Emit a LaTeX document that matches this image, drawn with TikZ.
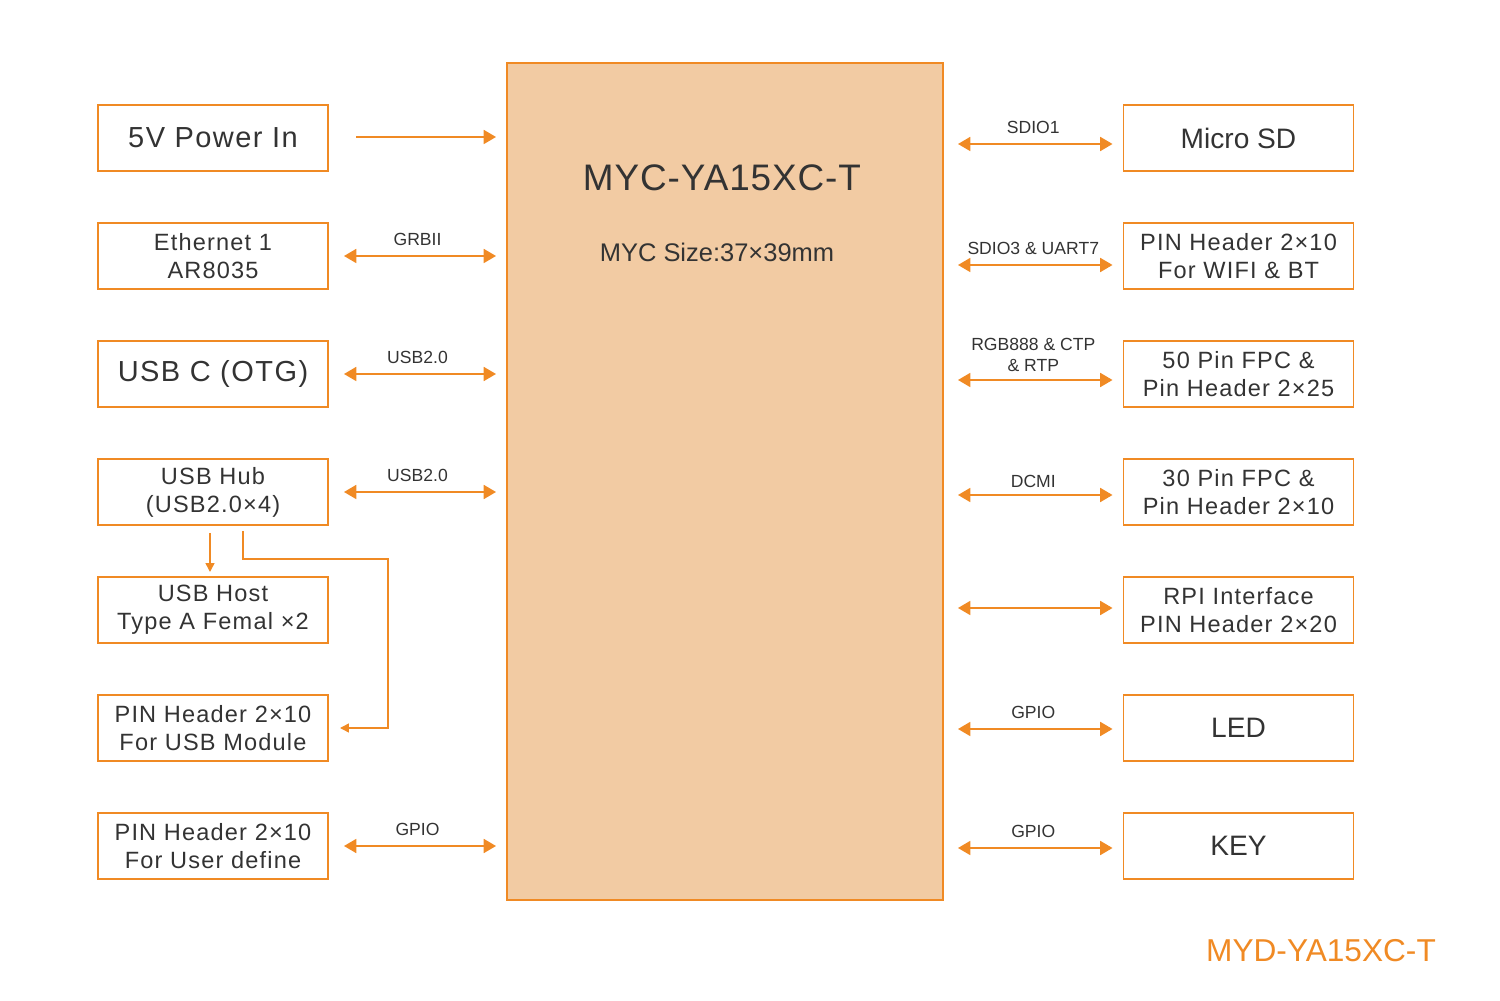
\documentclass[tikz,border=0pt]{standalone}
\usepackage{fontspec}
\setmainfont{Liberation Sans}
\newfontfamily\spacedfont[LetterSpace=5]{Liberation Sans}
\newfontfamily\titlefont[LetterSpace=2.5]{Liberation Sans}
\usepackage{tikz}
\usetikzlibrary{arrows.meta,positioning}
\definecolor{borde}{HTML}{F08A24}
\definecolor{relleno}{HTML}{F2CBA3}
\definecolor{texto}{HTML}{333333}
\tikzstyle{bloque}=[
	rectangle,
	draw=borde,
	line width=0.85pt,
	text=texto,
	inner sep=0pt,
	outer sep=0pt,
	minimum width=4.6cm,
	minimum height=1.32cm,
	align=center,
	font=\spacedfont\fontsize{13.4}{16}\selectfont]
\tikzstyle{grande}=[
	bloque,
	font=\spacedfont\fontsize{16.5}{19}\selectfont]
\tikzstyle{simple}=[
	bloque,
	font=\fontsize{16}{19}\selectfont]
\tikzstyle{modulo}=[
	rectangle,
	draw=borde,
	fill=relleno,
	line width=0.85pt,
	outer sep=0pt,
	minimum width=8.72cm,
	minimum height=16.74cm]
\tikzstyle{bus}=[
	draw=borde,
	line width=0.85pt]
\tikzstyle{etiq}=[
	text=texto,
	anchor=south,
	inner sep=0pt,
	yshift=0.2cm,
	align=center,
	font=\fontsize{10}{11.5}\selectfont]

\begin{document}
\begin{tikzpicture}[>={Triangle[length=7pt,width=8pt]}]
	\useasboundingbox (0,0) rectangle (30,20);
	\node[modulo] (mis) at (14.5,10.37) {};
	\node[text=texto,inner sep=0pt,font=\titlefont\fontsize{21}{24}\selectfont] (titulo) [below=2.02cm of mis.north,xshift=-0.06cm] {MYC-YA15XC-T};
	\node[text=texto,inner sep=0pt,font=\fontsize{14.5}{17}\selectfont] (tam) [below=1.04cm of titulo,xshift=-0.1cm] {MYC Size:37×39mm};
	% columna izquierda
	\node[grande] (pwr) at (4.26,17.24) {5V Power In};
	\node[bloque] (eth) [below=1.04cm of pwr] {Ethernet 1\\AR8035};
	\node[grande] (otg) [below=1.04cm of eth] {USB C (OTG)};
	\node[bloque] (hub) [below=1.04cm of otg] {USB Hub\\(USB2.0×4)};
	\node[bloque] (host) [below=1.04cm of hub] {USB Host\\Type A Femal ×2};
	\node[bloque] (pinusb) [below=1.04cm of host] {PIN Header 2×10\\For USB Module};
	\node[bloque] (pinusr) [below=1.04cm of pinusb] {PIN Header 2×10\\For User define};
	% columna derecha
	\node[simple] (sd) at (24.77,17.24) {Micro SD};
	\node[bloque] (wifi) [below=1.04cm of sd] {PIN Header 2×10\\For WIFI \& BT};
	\node[bloque] (fpc50) [below=1.04cm of wifi] {50 Pin FPC \&\\Pin Header 2×25};
	\node[bloque] (fpc30) [below=1.04cm of fpc50] {30 Pin FPC \&\\Pin Header 2×10};
	\node[bloque] (rpi) [below=1.04cm of fpc30] {RPI Interface\\PIN Header 2×20};
	\node[simple] (led) [below=1.04cm of rpi] {LED};
	\node[simple] (key) [below=1.04cm of led] {KEY};
	\node[text=borde,inner sep=0pt,font=\fontsize{18}{21}\selectfont] (placa) at (26.42,0.98) {MYD-YA15XC-T};
	\coordinate (giro) at (7.76,8.82);
	% conexiones izquierda
	\draw[bus,->,shorten <=0.56cm,shorten >=0.22cm] ([yshift=0.02cm]pwr.east) -- ([yshift=0.02cm]pwr.east -| mis.west);
	\draw[bus,<->,shorten <=0.32cm,shorten >=0.22cm] (eth.east) -- node[etiq] {GRBII} (eth.east -| mis.west);
	\draw[bus,<->,shorten <=0.32cm,shorten >=0.22cm] (otg.east) -- node[etiq] {USB2.0} (otg.east -| mis.west);
	\draw[bus,<->,shorten <=0.32cm,shorten >=0.22cm] (hub.east) -- node[etiq] {USB2.0} (hub.east -| mis.west);
	\draw[bus,<->,shorten <=0.32cm,shorten >=0.22cm] (pinusr.east) -- node[etiq] {GPIO} (pinusr.east -| mis.west);
	\draw[bus,->,>={Triangle[length=5pt,width=5pt]},shorten <=0.16cm,shorten >=0.1cm] ([xshift=-0.06cm]hub.south) -- ([xshift=-0.06cm]host.north);
	\draw[bus,->,>={Triangle[length=5pt,width=5pt]}] ([xshift=0.6cm,yshift=-0.12cm]hub.south) |- (giro) |- ([xshift=0.24cm]pinusb.east);
	% conexiones derecha
	\draw[bus,<->,shorten <=0.3cm,shorten >=0.22cm] ([yshift=-0.12cm]sd.west -| mis.east) -- node[etiq] {SDIO1} ([yshift=-0.12cm]sd.west);
	\draw[bus,<->,shorten <=0.3cm,shorten >=0.22cm] ([yshift=-0.18cm]wifi.west -| mis.east) -- node[etiq] {SDIO3 \& UART7} ([yshift=-0.18cm]wifi.west);
	\draw[bus,<->,shorten <=0.3cm,shorten >=0.22cm] ([yshift=-0.12cm]fpc50.west -| mis.east) -- node[etiq,yshift=-0.04cm] {RGB888 \& CTP\\\& RTP} ([yshift=-0.12cm]fpc50.west);
	\draw[bus,<->,shorten <=0.3cm,shorten >=0.22cm] ([yshift=-0.06cm]fpc30.west -| mis.east) -- node[etiq,yshift=-0.06cm] {DCMI} ([yshift=-0.06cm]fpc30.west);
	\draw[bus,<->,shorten <=0.3cm,shorten >=0.22cm] ([yshift=0.04cm]rpi.west -| mis.east) -- ([yshift=0.04cm]rpi.west);
	\draw[bus,<->,shorten <=0.3cm,shorten >=0.22cm] ([yshift=-0.02cm]led.west -| mis.east) -- node[etiq] {GPIO} ([yshift=-0.02cm]led.west);
	\draw[bus,<->,shorten <=0.3cm,shorten >=0.22cm] ([yshift=-0.04cm]key.west -| mis.east) -- node[etiq] {GPIO} ([yshift=-0.04cm]key.west);
\end{tikzpicture}
\end{document}
